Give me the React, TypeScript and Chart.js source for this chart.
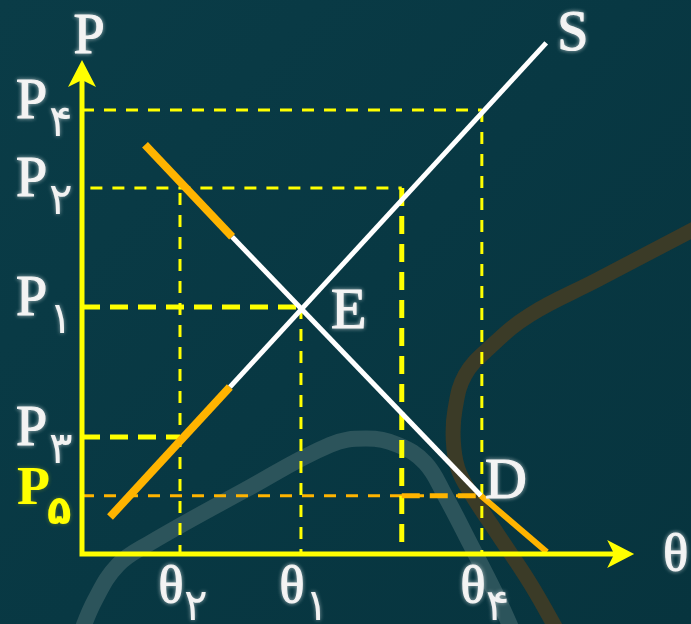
import { useEffect, useRef } from "react";
import { Chart, registerables } from "chart.js";
Chart.register(...registerables);

// ---- data (chart units) ----
const priceLevels = [8.54, 7.04, 4.75, 2.25, 1.12]; // P4, P2, P1, P3, P5
const priceSubs = ["۴", "۲", "۱", "۳", "۵"];
const qtyLevels = [1.75, 3.91, 5.71, 7.14]; // θ2, θ1, (unlabelled), θ4
const qtySubs = ["۲", "۱", "", "۴"];

const supplyX = [0.5, 2.64, 8.29];
const supplyY = [0.71, 3.21, 9.83];
const demandX = [1.125, 2.68, 7.125, 8.3];
const demandY = [7.87, 6.1, 1.12, 0.04];

const grayCurveX = [-0.07, 0.23, 0.64, 1.21, 2.91, 4.43, 5.07, 5.64, 6.13, 6.48, 6.93, 7.38, 7.68];
const grayCurveY = [-1.65, -0.89, -0.21, 0.21, 1.23, 2.1, 2.22, 2.1, 1.75, 1.13, 0.2, -0.75, -1.46];
const brownCurveX = [11.04, 9.2, 8.0, 7.29, 6.84, 6.66, 6.63, 6.71, 6.93, 7.41, 8.0, 8.48];
const brownCurveY = [6.31, 5.27, 4.6, 3.98, 3.44, 2.77, 2.19, 1.65, 1.19, 0.4, -0.56, -1.46];

const axisXEnd = 9.86;
const axisYEnd = 9.5;

const YELLOW = "#ffff00";
const ORANGE = "#ffb400";
const WHITE = "#ffffff";

const pts = (xs: number[], ys: number[]) => xs.map((x, i) => ({ x, y: ys[i] }));

function line(data: { x: number; y: number }[], color: string, width: number, order: number, dash?: number[], tension = 0) {
  return {
    data,
    showLine: true,
    borderColor: color,
    borderWidth: width,
    borderDash: dash || [],
    pointRadius: 0,
    tension,
    fill: false,
    clip: false as any,
    order,
  };
}

const THIN = [12, 10];
const THICK = [18, 10];

export default function App() {
  const ref = useRef<HTMLCanvasElement | null>(null);

  useEffect(() => {
    if (!ref.current) return;
    const [p4, p2, p1, p3, p5] = priceLevels;
    const [q2, q1, q3, q4] = qtyLevels;

    const datasets: any[] = [
      line(pts(supplyX.slice(0, 2), supplyY.slice(0, 2)), ORANGE, 8, 1),
      line(pts(supplyX.slice(1), supplyY.slice(1)), WHITE, 5, 2),
      line(pts(demandX.slice(0, 2), demandY.slice(0, 2)), ORANGE, 8, 1),
      line(pts(demandX.slice(1, 3), demandY.slice(1, 3)), WHITE, 5, 2),
      line(pts(demandX.slice(2), demandY.slice(2)), ORANGE, 6, 1),
      line([{ x: 0, y: p4 }, { x: q4, y: p4 }], YELLOW, 3, 5, THIN),
      line([{ x: 0.15, y: p2 }, { x: q3, y: p2 }], YELLOW, 3, 5, THIN),
      line([{ x: 0, y: p1 }, { x: q1, y: p1 }], YELLOW, 5, 5, THICK),
      line([{ x: 0, y: p3 }, { x: q2, y: p3 }], YELLOW, 5, 5, THICK),
      line([{ x: 0, y: p5 }, { x: q4, y: p5 }], ORANGE, 3, 6, THIN),
      line([{ x: q3, y: p5 }, { x: q4, y: p5 }], ORANGE, 5, 4, THICK),
      line([{ x: q2, y: p2 - 0.1 }, { x: q2, y: 0 }], YELLOW, 3, 5, THIN),
      line([{ x: q1, y: p1 }, { x: q1, y: 0 }], YELLOW, 3, 5, THIN),
      line([{ x: q3, y: p2 }, { x: q3, y: 0 }], YELLOW, 5, 5, THICK),
      line([{ x: q4, y: p4 }, { x: q4, y: 0 }], YELLOW, 3, 5, THIN),
      line(pts(grayCurveX, grayCurveY), "#2c545b", 16, 20, undefined, 0.4),
      line(pts(brownCurveX, brownCurveY), "#3b3b27", 15, 21, undefined, 0.4),
    ];

    const bgPlugin = {
      id: "bg",
      beforeDraw(chart: any) {
        const { ctx, width, height } = chart;
        ctx.save();
        const g = ctx.createLinearGradient(0, 0, width, height);
        g.addColorStop(0, "#0a3c47");
        g.addColorStop(0.5, "#083843");
        g.addColorStop(1, "#07343e");
        ctx.fillStyle = g;
        ctx.fillRect(0, 0, width, height);
        ctx.restore();
      },
    };

    const overlay = {
      id: "overlay",
      afterDatasetsDraw(chart: any) {
        const { ctx } = chart;
        const xs = chart.scales.x;
        const ys = chart.scales.y;
        const X = (v: number) => xs.getPixelForValue(v);
        const Y = (v: number) => ys.getPixelForValue(v);
        const ox = X(0);
        const oy = Y(0);
        const tx = X(axisXEnd);
        const ty = Y(axisYEnd);

        ctx.save();
        ctx.strokeStyle = YELLOW;
        ctx.fillStyle = YELLOW;
        ctx.lineWidth = 5;
        ctx.lineCap = "square";
        ctx.beginPath();
        ctx.moveTo(ox, ty + 12);
        ctx.lineTo(ox, oy);
        ctx.lineTo(tx - 12, oy);
        ctx.stroke();
        ctx.beginPath();
        ctx.moveTo(ox, ty);
        ctx.lineTo(ox - 14, ty + 27);
        ctx.lineTo(ox, ty + 20);
        ctx.lineTo(ox + 14, ty + 27);
        ctx.closePath();
        ctx.fill();
        ctx.beginPath();
        ctx.moveTo(tx, oy);
        ctx.lineTo(tx - 27, oy - 14);
        ctx.lineTo(tx - 20, oy);
        ctx.lineTo(tx - 27, oy + 14);
        ctx.closePath();
        ctx.fill();

        const main = "56px 'Liberation Serif', serif";
        const theta = "52px 'Liberation Serif', serif";
        const sub = "44px 'DejaVu Sans', sans-serif";
        ctx.textBaseline = "alphabetic";
        ctx.lineJoin = "round";

        const txt = (s: string, x: number, y: number, font: string, col: string, align: CanvasTextAlign, thick = 1.2) => {
          ctx.font = font;
          ctx.textAlign = align;
          ctx.fillStyle = col;
          ctx.strokeStyle = col;
          ctx.shadowColor = col === YELLOW ? "rgba(255,255,0,0.3)" : "rgba(255,255,255,0.55)";
          ctx.shadowBlur = 4;
          ctx.lineWidth = thick;
          ctx.fillText(s, x, y);
          if (thick > 0) ctx.strokeText(s, x, y);
        };

        const WT = "#f2f2f2";

        priceLevels.forEach((v, i) => {
          const yb = Y(v) + 8;
          const isLast = i === priceLevels.length - 1;
          if (isLast) {
            txt("P", ox - 65, yb, "bold 54px 'Liberation Serif', serif", YELLOW, "left", 0);
            txt(priceSubs[i], ox - 35, yb + 20, "bold 40px 'DejaVu Sans', sans-serif", YELLOW, "left", 0);
          } else {
            txt("P", ox - 66, yb, main, WT, "left");
            txt(priceSubs[i], ox - 33, yb + 18, sub, WT, "left", 0);
          }
        });

        qtyLevels.forEach((v, i) => {
          if (!qtySubs[i]) return;
          const cx = X(v) - 9;
          const yb = oy + 48;
          txt("θ", cx, yb, theta, WT, "center");
          txt(qtySubs[i], cx + 13, yb + 18, sub, WT, "left", 0);
        });

        txt("P", ox + 7, ty - 7, main, WT, "center");
        txt("θ", tx + 29, oy + 16, theta, WT, "left");

        const sEndX = X(supplyX[supplyX.length - 1]);
        const sEndY = Y(supplyY[supplyY.length - 1]);
        txt("S", sEndX + 11, sEndY + 7, main, WT, "left");
        txt("E", X(qtyLevels[1]) + 30, Y(priceLevels[2]) + 21, "58px 'Liberation Serif', serif", WT, "left");
        txt("D", X(demandX[2]) + 4, Y(demandY[2]) + 2, "58px 'Liberation Serif', serif", WT, "left");
        ctx.restore();
      },
    };

    const chart = new Chart(ref.current, {
      type: "scatter",
      data: { datasets },
      options: {
        animation: false,
        responsive: false,
        devicePixelRatio: 1,
        layout: { padding: { left: 82, right: 49, top: 34, bottom: 70 } },
        plugins: { legend: { display: false }, tooltip: { enabled: false }, title: { display: false } },
        events: [],
        scales: {
          x: { type: "linear", min: 0, max: 10, display: false },
          y: { type: "linear", min: 0, max: 10, display: false },
        },
      } as any,
      plugins: [bgPlugin, overlay],
    });
    return () => chart.destroy();
  }, []);

  return (
    <div style={{ position: "fixed", left: 0, top: 0, width: 691, height: 624 }}>
      <canvas ref={ref} width={691} height={624} style={{ display: "block" }} />
    </div>
  );
}
